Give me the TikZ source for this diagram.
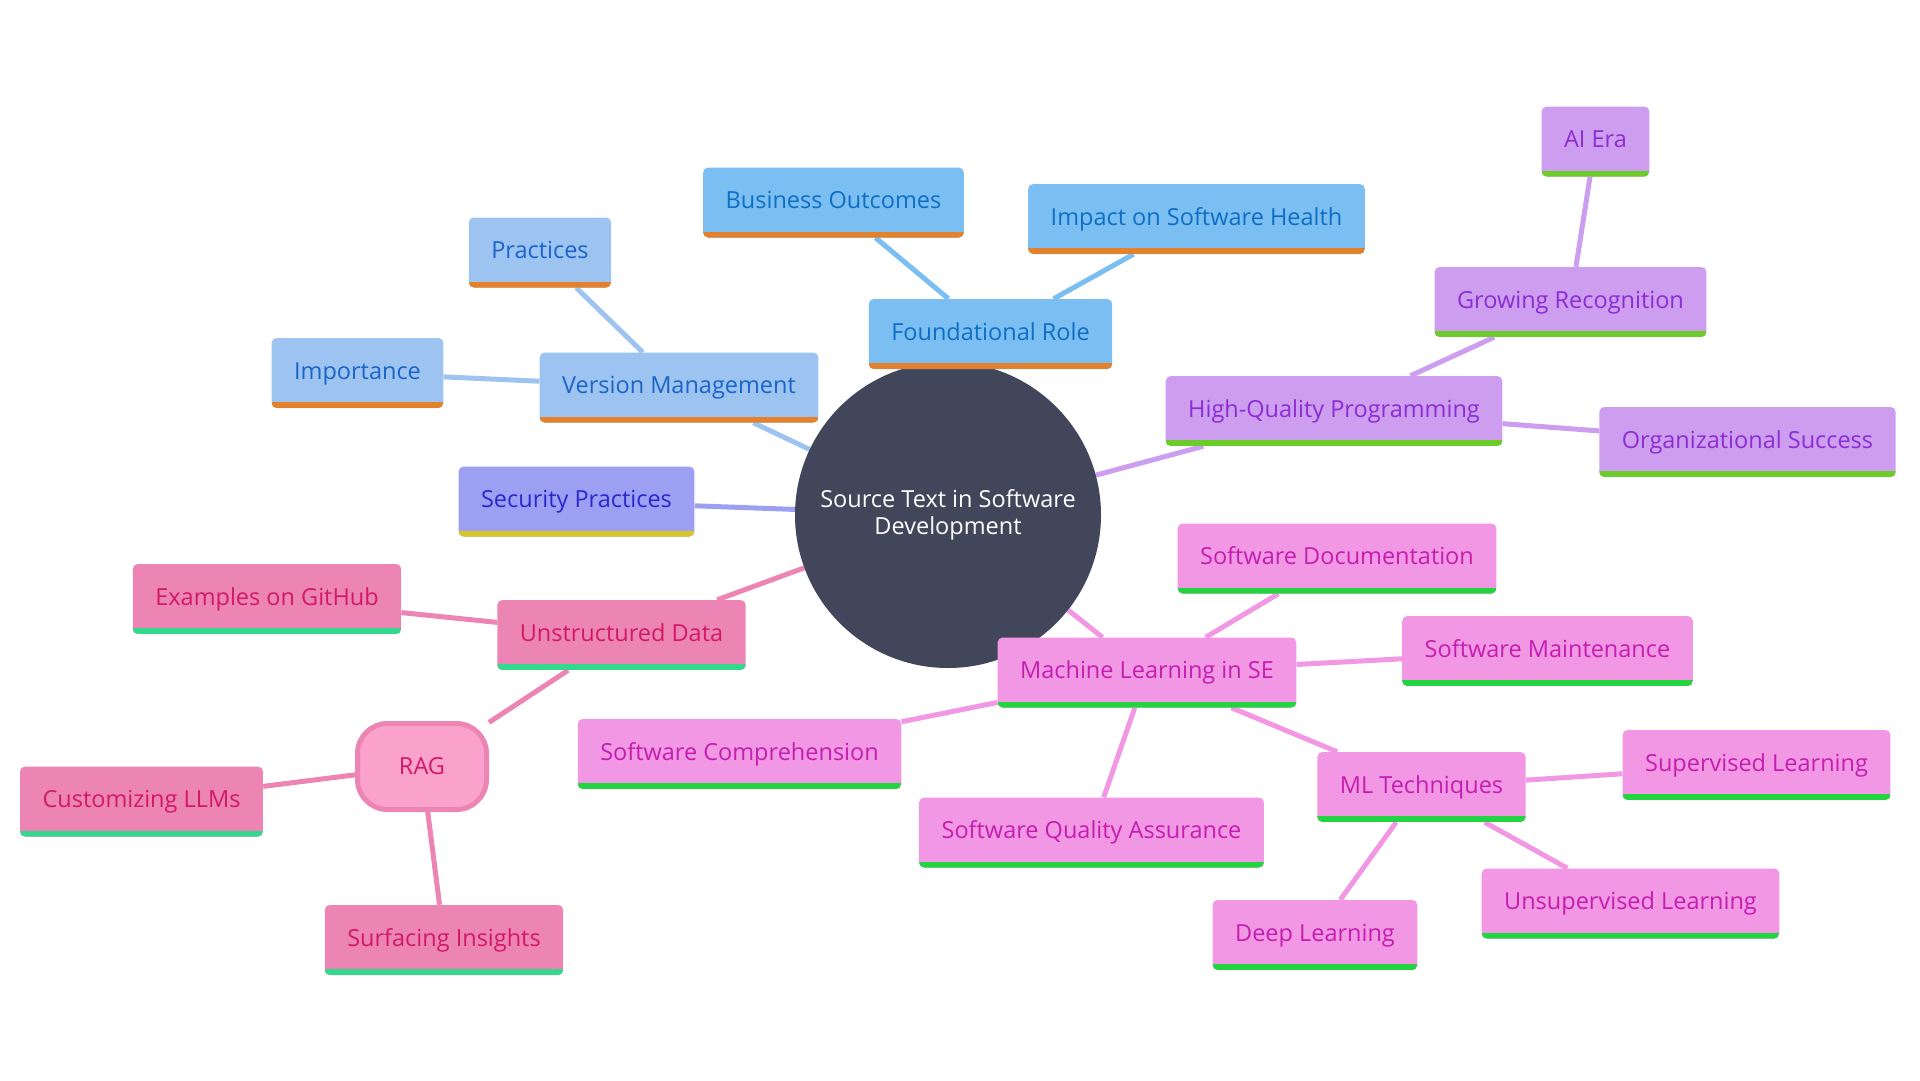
\documentclass[tikz,border=0pt]{standalone}
\usepackage{fontspec}
\setmainfont{Open Sans}
\usetikzlibrary{backgrounds}
\definecolor{CoreSlate}{HTML}{41465A}
\definecolor{VerFill}{HTML}{9DC3F0}
\definecolor{VerText}{HTML}{1B64C8}
\definecolor{FoundFill}{HTML}{7BBFF2}
\definecolor{FoundText}{HTML}{0F6EC3}
\definecolor{OrangeBar}{HTML}{E4812D}
\definecolor{QualFill}{HTML}{CD9DF0}
\definecolor{QualText}{HTML}{8C2DD2}
\definecolor{LimeBar}{HTML}{6CCD2A}
\definecolor{SecFill}{HTML}{9DA0F2}
\definecolor{SecText}{HTML}{2828CD}
\definecolor{MustardBar}{HTML}{D6C628}
\definecolor{DataFill}{HTML}{EC85B4}
\definecolor{DataText}{HTML}{D21969}
\definecolor{TealBar}{HTML}{34D88C}
\definecolor{RagFill}{HTML}{FAA2CC}
\definecolor{MlFill}{HTML}{F297E4}
\definecolor{MlText}{HTML}{C31EAF}
\definecolor{GreenBar}{HTML}{23D441}
\newcommand{\mapfont}{\fontsize{23.5}{27}\selectfont}

\begin{document}
\begin{tikzpicture}[
  x=1pt, y=-1pt,
  box/.style={rectangle, rounded corners=5pt, minimum height=70pt, inner xsep=22.5pt, inner ysep=0pt, text height=17pt, text depth=5pt, font=\mapfont},
  bar/.style={path picture={\fill[#1, sharp corners] ([yshift=6pt]path picture bounding box.south west) rectangle (path picture bounding box.south east);}},
  verbox/.style={box, fill=VerFill, text=VerText, bar=OrangeBar},
  foundbox/.style={box, fill=FoundFill, text=FoundText, bar=OrangeBar},
  qualbox/.style={box, fill=QualFill, text=QualText, bar=LimeBar},
  secbox/.style={box, fill=SecFill, text=SecText, bar=MustardBar},
  databox/.style={box, fill=DataFill, text=DataText, bar=TealBar},
  mlbox/.style={box, fill=MlFill, text=MlText, bar=GreenBar},
  ragbox/.style={rounded corners=30pt, draw=DataFill, line width=5pt, fill=RagFill, text=DataText, minimum width=129pt, minimum height=86pt, font=\mapfont},
  core/.style={circle, fill=CoreSlate, text=white, minimum size=306pt, inner sep=0pt, align=center, font=\mapfont},
  link/.style={line width=5pt, draw=#1}
]
\useasboundingbox (0,0) rectangle (1920,1080);

\node[core] (source) at (948,515) {Source Text in Software\\Development};

% version branch
\node[verbox] (version) at ([shift={(-269,-127.5)}]source.center) {Version Management};
\node[verbox] (practices) at ([shift={(-139,-135)}]version.center) {Practices};
\node[verbox] (importance) at ([shift={(-321.5,-14.5)}]version.center) {Importance};

% foundational branch
\node[foundbox] (foundational) at ([shift={(42.5,-181)}]source.center) {Foundational Role};
\node[foundbox] (business) at ([shift={(-157,-131.5)}]foundational.center) {Business Outcomes};
\node[foundbox] (health) at ([shift={(206,-115)}]foundational.center) {Impact on Software Health};

% quality branch
\node[qualbox] (quality) at ([shift={(386,-104)}]source.center) {High-Quality Programming};
\node[qualbox] (recognition) at ([shift={(236.5,-109)}]quality.center) {Growing Recognition};
\node[qualbox] (aiera) at ([shift={(25,-160.5)}]recognition.center) {AI Era};
\node[qualbox] (success) at ([shift={(413.5,31)}]quality.center) {Organizational Success};

% security
\node[secbox] (security) at ([shift={(-371.5,-13.5)}]source.center) {Security Practices};

% data branch
\node[databox] (unstructured) at ([shift={(-326.5,120)}]source.center) {Unstructured Data};
\node[databox] (github) at ([shift={(-354.5,-36)}]unstructured.center) {Examples on GitHub};
\node[ragbox] (rag) at ([shift={(-199.5,131.5)}]unstructured.center) {RAG};
\node[databox] (llms) at ([shift={(-280.5,35)}]rag.center) {Customizing LLMs};
\node[databox] (insights) at ([shift={(22,173.5)}]rag.center) {Surfacing Insights};

% machine learning branch
\node[mlbox] (mlse) at ([shift={(199,157.5)}]source.center) {Machine Learning in SE};
\node[mlbox] (docs) at ([shift={(190,-114)}]mlse.center) {Software Documentation};
\node[mlbox] (maint) at ([shift={(400.5,-21.5)}]mlse.center) {Software Maintenance};
\node[mlbox] (compre) at ([shift={(-407.5,81.5)}]mlse.center) {Software Comprehension};
\node[mlbox] (sqa) at ([shift={(-55.5,160)}]mlse.center) {Software Quality Assurance};
\node[mlbox] (techniques) at ([shift={(274.5,114.5)}]mlse.center) {ML Techniques};
\node[mlbox] (supervised) at ([shift={(335,-22)}]techniques.center) {Supervised Learning};
\node[mlbox] (unsupervised) at ([shift={(209,116.5)}]techniques.center) {Unsupervised Learning};
\node[mlbox] (deep) at ([shift={(-106.5,148)}]techniques.center) {Deep Learning};

\begin{scope}[on background layer]
\draw[link=VerFill] (source) -- (version);
\draw[link=VerFill] (version) -- (practices);
\draw[link=VerFill] (version) -- (importance);
\draw[link=FoundFill] (source) -- (foundational);
\draw[link=FoundFill] (foundational) -- (business);
\draw[link=FoundFill] (foundational) -- (health);
\draw[link=QualFill] (source) -- (quality);
\draw[link=QualFill] (quality) -- (recognition);
\draw[link=QualFill] (recognition) -- (aiera);
\draw[link=QualFill] (quality) -- (success);
\draw[link=SecFill] (source) -- (security);
\draw[link=DataFill] (source) -- (unstructured);
\draw[link=DataFill] (unstructured) -- (github);
\draw[link=DataFill] (unstructured) -- (rag);
\draw[link=DataFill] (rag) -- (llms);
\draw[link=DataFill] (rag) -- (insights);
\draw[link=MlFill] (source) -- (mlse);
\draw[link=MlFill] (mlse) -- (docs);
\draw[link=MlFill] (mlse) -- (maint);
\draw[link=MlFill] (mlse) -- (compre);
\draw[link=MlFill] (mlse) -- (sqa);
\draw[link=MlFill] (mlse) -- (techniques);
\draw[link=MlFill] (techniques) -- (supervised);
\draw[link=MlFill] (techniques) -- (unsupervised);
\draw[link=MlFill] (techniques) -- (deep);
\end{scope}
\end{tikzpicture}
\end{document}
